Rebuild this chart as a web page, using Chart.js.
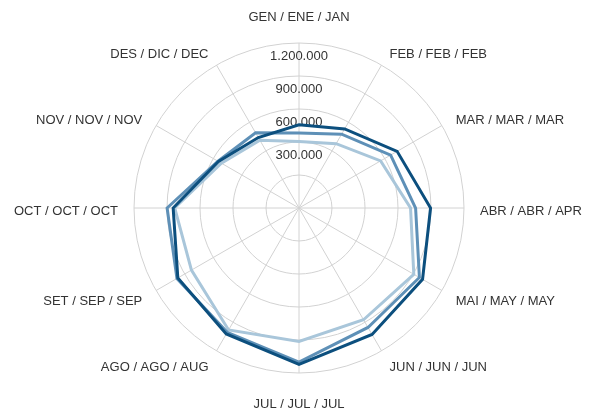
<!DOCTYPE html>
<html>
<head>
<meta charset="utf-8">
<script src="https://cdn.jsdelivr.net/npm/chart.js@4.4.1/dist/chart.umd.min.js"></script>
<style>
    html, body { margin: 0; padding: 0; background: #fff; }
    #wrap { width: 595px; height: 412px; }
</style>
</head>
<body>
<div id="wrap"><canvas id="radarChart"></canvas></div>
<script>
// Month names in Catalan / Spanish / English
const months = [
    'GEN / ENE / JAN', 'FEB / FEB / FEB', 'MAR / MAR / MAR', 'ABR / ABR / APR',
    'MAI / MAY / MAY', 'JUN / JUN / JUN', 'JUL / JUL / JUL', 'AGO / AGO / AUG',
    'SET / SEP / SEP', 'OCT / OCT / OCT', 'NOV / NOV / NOV', 'DES / DIC / DEC'
];
const seriesDark  = [757000, 830000, 1030000, 1196000, 1297000, 1328000, 1422000, 1322000, 1272000, 1144000, 845000, 740000];
const seriesMid   = [681000, 775000, 962000, 1060000, 1264000, 1254000, 1401000, 1305000, 1281000, 1199000, 850000, 789000];
const seriesLight = [605000, 675000, 857000, 1014000, 1205000, 1173000, 1213000, 1280000, 1129000, 1130000, 815000, 711000];
const tickValues = [300000, 600000, 900000, 1200000];
const scaleMax = 1500000;

const FONT = '13px "Liberation Sans", Arial, Helvetica, sans-serif';
const TEXT_COLOR = '#333333';

function formatThousands(v) {
    return v.toString().replace(/\B(?=(\d{3})+(?!\d))/g, '.');
}

// tick labels sit between the rings and the month labels hug the outer ring,
// so both are drawn here from the scale's own geometry
const labelPlugin = {
    id: 'radarLabels',
    beforeDatasetsDraw(chart) {
        const scale = chart.scales.r;
        const ctx = chart.ctx;
        ctx.save();
        ctx.font = FONT;
        ctx.fillStyle = TEXT_COLOR;
        ctx.textAlign = 'center';
        ctx.textBaseline = 'middle';
        tickValues.forEach(v => {
            const d = scale.getDistanceFromCenterForValue(v);
            ctx.fillText(formatThousands(v), scale.xCenter, scale.yCenter - d - 20);
        });

        const R = scale.drawingArea;
        months.forEach((label, i) => {
            const deg = i * 360 / months.length;
            const vertical = deg === 0 || deg === 180;
            const p = scale.getPointPosition(i, R + (vertical ? 22 : 16));
            if (deg === 0) {
                ctx.textAlign = 'center';
                ctx.textBaseline = 'bottom';
            } else if (deg === 180) {
                ctx.textAlign = 'center';
                ctx.textBaseline = 'top';
            } else {
                ctx.textAlign = deg < 180 ? 'left' : 'right';
                ctx.textBaseline = 'middle';
            }
            ctx.fillText(label, p.x, p.y + 3);
        });
        ctx.restore();
    }
};

const ctx = document.getElementById('radarChart').getContext('2d');
const radarChart = new Chart(ctx, {
    type: 'radar',
    data: {
        labels: months,
        datasets: [
            { label: 'A', data: seriesDark,  borderColor: '#0c4f7e' },
            { label: 'B', data: seriesMid,   borderColor: '#5e90b7' },
            { label: 'C', data: seriesLight, borderColor: '#a9c6da' }
        ].map(ds => Object.assign(ds, {
            fill: false,
            borderWidth: 3,
            pointRadius: 0,
            pointHoverRadius: 0,
            tension: 0
        }))
    },
    options: {
        responsive: true,
        maintainAspectRatio: false,
        animation: false,
        layout: { padding: { top: 43, bottom: 39, left: 3, right: 0 } },
        plugins: {
            legend: { display: false },
            tooltip: { enabled: false }
        },
        scales: {
            r: {
                min: 0,
                max: scaleMax,
                ticks: { stepSize: 300000, display: false },
                grid: { color: '#d2d2d2', lineWidth: 1, circular: true },
                angleLines: { color: '#d2d2d2', lineWidth: 1 },
                pointLabels: { display: false }
            }
        }
    },
    plugins: [labelPlugin]
});
</script>
</body>
</html>
